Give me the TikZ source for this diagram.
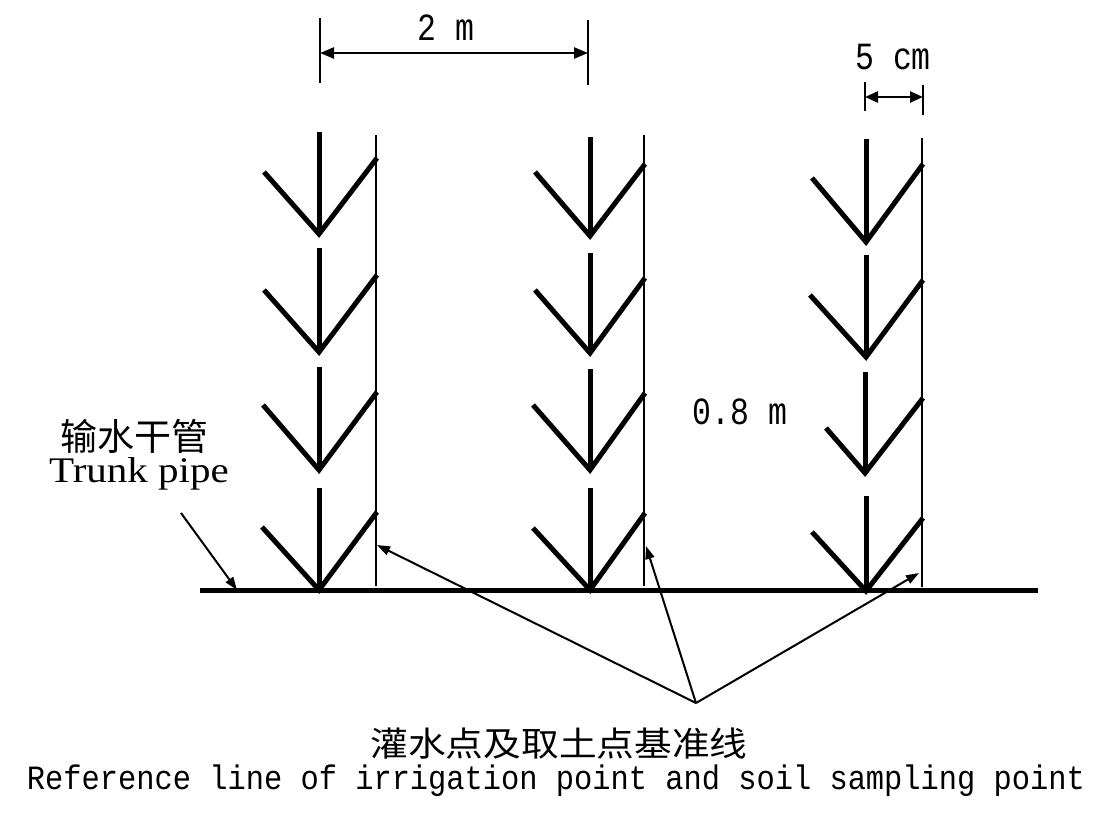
\documentclass[tikz,border=0pt]{standalone}
\usepackage{fontspec}
\setmainfont{Liberation Serif}
\setmonofont{Liberation Mono}
\newfontfamily\cjk{Noto Sans CJK SC}
\usetikzlibrary{arrows.meta}
\tikzset{
  stemline/.style={line width=5pt, line cap=butt},
  armline/.style={line width=5pt, line cap=butt, line join=miter},
  refline/.style={line width=2.6pt},
  baseline/.style={line width=5pt},
  tickline/.style={line width=2.4pt},
  ptr/.style={line width=2pt, -{Triangle[length=13pt,width=9pt]}},
  dimarrow/.style={line width=2.4pt, {Triangle[length=14pt,width=11pt]}-{Triangle[length=14pt,width=11pt]}},
  monolbl/.style={inner sep=0pt, font=\ttfamily\fontsize{31.5}{36}\selectfont},
}
% chevron: stem x, stem top y, tip y, left x, left y, right x, right y
\newcommand\chev[7]{%
  \draw[stemline] (#1,#2) -- (#1,#3);
  \draw[armline] (#4,#5) -- (#1,#3) -- (#6,#7);
}
\begin{document}
\begin{tikzpicture}[x=1pt,y=-1pt]
\useasboundingbox (0,0) rectangle (1102,819);
\fill[white] (0,0) rectangle (1102,819);

% column 1
\chev{319}{132}{234}{264}{172}{377}{158}
\chev{319}{248}{352}{264}{290}{377}{275}
\chev{319}{367}{470}{263}{405}{377}{392}
\chev{319}{488}{590}{262}{527}{377}{512}
\coordinate (l1t) at (376,135);
\coordinate (l1b) at (376,586);
\draw[refline] (l1t) -- (l1b);

% column 2
\chev{590}{137}{236}{535}{172}{645}{164}
\chev{590}{253}{353}{535}{290}{645}{278}
\chev{590}{369}{470}{533}{405}{645}{393}
\chev{590}{488}{590}{533}{528}{645}{513}
\coordinate (l2t) at (644,135);
\coordinate (l2b) at (644,586);
\draw[refline] (l2t) -- (l2b);

% column 3
\chev{866}{139}{242}{812}{178}{923}{164}
\chev{866}{255}{357}{810}{295}{923}{280}
\chev{865}{372}{473}{826}{428}{923}{398}
\chev{866}{496}{591}{812}{532}{923}{518}
\coordinate (l3t) at (922,138);
\coordinate (l3b) at (922,587);
\draw[refline] (l3t) -- (l3b);

% trunk pipe
\coordinate (pipeL) at (200,590);
\coordinate (pipeR) at (1038,590);
\draw[baseline] (pipeL) -- (pipeR);

% 2 m dimension
\coordinate (d1t) at (320,18);
\coordinate (d1b) at (320,83);
\coordinate (d2t) at (588,20);
\coordinate (d2b) at (588,85);
\draw[tickline] (d1t) -- (d1b);
\draw[tickline] (d2t) -- (d2b);
\coordinate (d1a) at (320,53);
\coordinate (d2a) at (588,53);
\draw[dimarrow] (d1a) -- (d2a);
\node[monolbl] (twom) at (446,28) {\scalebox{1}[1.22]{2 m}};

% 5 cm dimension
\coordinate (c1t) at (865,82);
\coordinate (c1b) at (865,111);
\coordinate (c2t) at (923,85);
\coordinate (c2b) at (923,115);
\draw[tickline] (c1t) -- (c1b);
\draw[tickline] (c2t) -- (c2b);
\coordinate (c1a) at (865,97);
\coordinate (c2a) at (923,97);
\draw[dimarrow, {Triangle[length=13pt,width=11pt]}-{Triangle[length=13pt,width=11pt]}] (c1a) -- (c2a);
\node[monolbl] (fivecm) at (893,57) {\scalebox{1}[1.22]{5 cm}};

% 0.8 m
\node[monolbl] (eightm) at (740,412) {\scalebox{1}[1.22]{0.8 m}};

% trunk pipe label
\node[inner sep=0pt, font=\cjk\fontsize{37}{40}\selectfont] (tpcn) at (134,436) {输水干管};
\node[inner sep=0pt, font=\fontsize{36}{40}\selectfont] (tpen) at (139,474) {\scalebox{1.14}[1]{Trunk pipe}};
\coordinate (tpfrom) at (181,513);
\coordinate (tpto) at (237,590);
\draw[ptr] (tpfrom) -- (tpto);

% reference line pointers
\coordinate (apex) at (696,703);
\coordinate (r1) at (377,545);
\coordinate (r2) at (646,546);
\coordinate (r3) at (919,573);
\draw[ptr] (apex) -- (r1);
\draw[ptr] (apex) -- (r2);
\draw[ptr] (apex) -- (r3);

% bottom labels
\node[inner sep=0pt, font=\cjk\fontsize{34}{38}\selectfont] (refcn) at (559,744) {\scalebox{1.11}[1]{灌水点及取土点基准线}};
\node[inner sep=0pt, font=\ttfamily\fontsize{30.4}{34}\selectfont] (refen) at (556,781) {\scalebox{1}[1.12]{Reference line of irrigation point and soil sampling point}};
\end{tikzpicture}
\end{document}
